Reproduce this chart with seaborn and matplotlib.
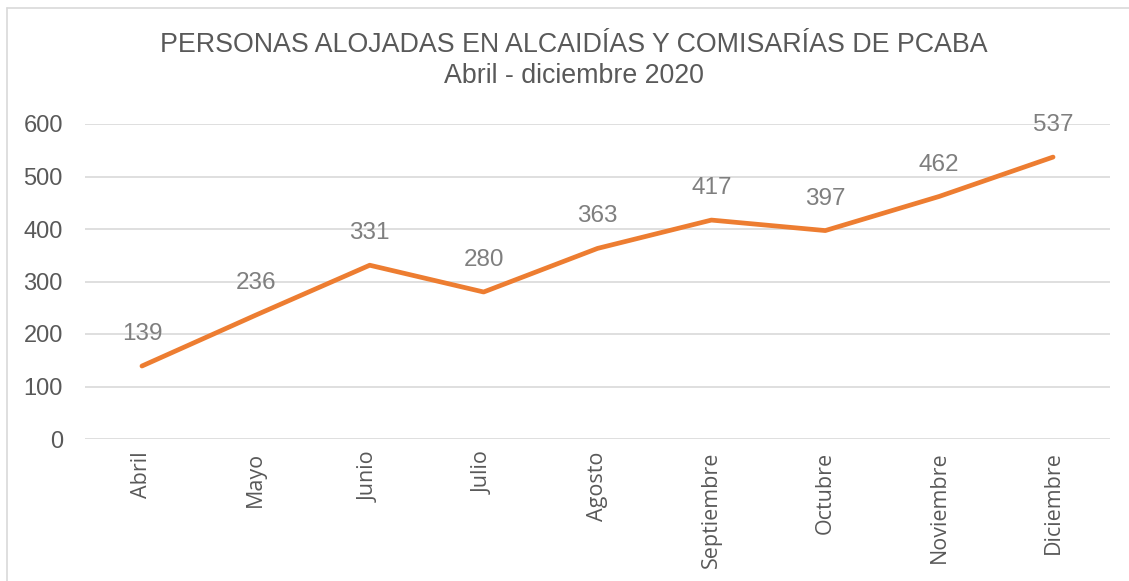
import matplotlib
matplotlib.use("Agg")
import matplotlib.pyplot as plt
import seaborn as sns
import pandas as pd

months = ["Abril", "Mayo", "Junio", "Julio", "Agosto", "Septiembre",
          "Octubre", "Noviembre", "Diciembre"]
personas = [139, 236, 331, 280, 363, 417, 397, 462, 537]
yticks = [0, 100, 200, 300, 400, 500, 600]
title_line1 = "PERSONAS ALOJADAS EN ALCAIDÍAS Y COMISARÍAS DE PCABA"
title_line2 = "Abril - diciembre 2020"

sns.set_theme(style="white")
plt.rcParams['font.family'] = ['Liberation Sans', 'DejaVu Sans']

df = pd.DataFrame({"mes": months, "personas": personas})
df["x"] = range(len(months))

fig = plt.figure(figsize=(11.29, 5.81), dpi=100)
ax = fig.add_axes([85/1129, 1 - 439/581, (1110-85)/1129, (439-124)/581])

sns.lineplot(data=df, x="x", y="personas", ax=ax, color="#ED7D31",
             linewidth=3.4, solid_capstyle="round", solid_joinstyle="round")

for xi, v in zip(df["x"], df["personas"]):
    ax.annotate(str(v), (xi, v), xytext=(0, 23), textcoords="offset points",
                ha="center", va="center", fontsize=17.5, color="#7F7F7F",
                clip_on=False)

ax.set_xlim(-0.5, len(months) - 0.5)
ax.set_ylim(0, 600)
ax.set_yticks(yticks)
ax.set_yticklabels([str(t) for t in yticks], fontsize=17, color="#595959")
ax.set_xticks(df["x"])
ax.set_xticklabels(months, rotation=90, fontsize=15.5, color="#595959",
                   family=["Open Sans", "DejaVu Sans"])
ax.tick_params(axis="y", length=0, pad=16)
ax.tick_params(axis="x", length=0, pad=9)
ax.grid(axis="y", color="#D9D9D9", linewidth=1.2)
ax.set_axisbelow(True)
for s in ax.spines.values():
    s.set_visible(False)
ax.set_xlabel("")
ax.set_ylabel("")

fig.text(574/1129, 1 - 45/581, title_line1, ha="center", va="center",
         fontsize=19.3, color="#595959")
fig.text(574/1129, 1 - 76/581, title_line2, ha="center", va="center",
         fontsize=19.3, color="#595959")

# chart frame (top and left edges visible in reference)
fig.add_artist(plt.Line2D([7/1129, 7/1129], [0, 1 - 8/581],
                          transform=fig.transFigure, color="#D9D9D9", linewidth=1.2))
fig.add_artist(plt.Line2D([7/1129, 1], [1 - 8/581, 1 - 8/581],
                          transform=fig.transFigure, color="#D9D9D9", linewidth=1.2))

fig.savefig("out.png", dpi=100, facecolor="white")
